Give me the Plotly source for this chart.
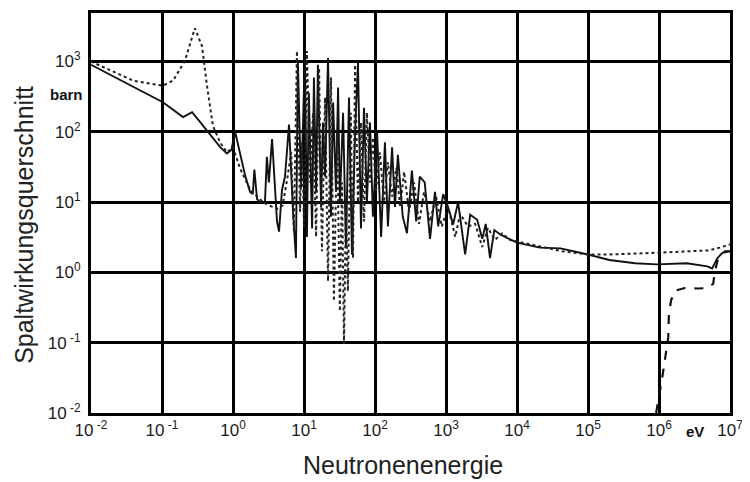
import plotly.graph_objects as go

# Energies (eV) and fission cross sections (barn)
solid_E = [0.01, 0.03, 0.103, 0.198, 0.265, 0.343, 0.475, 0.656, 0.82, 0.95, 1.07, 1.26, 1.48, 1.74, 1.9, 2.0,
           2.18, 2.4, 2.82, 3.0, 3.2, 3.55, 4.17, 4.45, 4.9, 5.4,
           6.15, 7.0, 7.7, 8.2, 9.1, 9.7, 10.3, 11.0, 11.7, 13.0, 13.8, 14.8, 15.7, 17.4, 18.5, 19.8,
           21.8, 24, 25.7, 28.2, 30.2, 32, 35.5, 39, 43, 47.4, 52.4, 57.6, 63.5, 70, 77, 85, 93.5,
           107, 122, 138, 152, 174, 191, 210, 246, 282, 331, 380, 427, 501, 596, 700, 776, 912,
           1070, 1260, 1480, 1860, 2190, 2750, 3240, 3630, 4170, 4790, 5750, 7240, 10000,
           21000, 41000, 1e5, 2.0e5, 4.6e5, 9.3e5, 2.45e6, 4.8e6, 5.6e6, 6.6e6, 7.8e6, 1e7]
solid_S = [900, 505, 263, 162, 190, 138, 90, 61, 49, 55, 100, 51, 24, 14, 13, 29,
           11, 10, 10, 44, 19, 79, 5.3, 3.8, 15, 23,
           127, 7.3, 1.6, 1020, 16, 135, 1320, 3.2, 360, 4.2, 590, 14, 900, 8.5, 135, 23,
           1120, 6.2, 260, 14, 425, 10, 187, 2.3, 307, 1.8, 98, 955, 4.2, 220, 10, 135, 6.2,
           98, 3.2, 71, 4.5, 60, 8.5, 47, 6.2, 3.6, 28, 5.3, 23, 19, 3.0, 14, 4.5, 13,
           8.5, 4.8, 10, 1.8, 6.6, 5.6, 3.0, 4.9, 1.6, 4.0, 3.5, 3.1, 2.65,
           2.25, 2.2, 1.8, 1.5, 1.35, 1.3, 1.35, 1.22, 1.14, 1.58, 1.9, 2.0]

dotted_E = [0.01, 0.039, 0.103, 0.143, 0.21, 0.29, 0.366, 0.43, 0.52, 0.656, 0.82, 1.0, 1.26, 1.74, 2.65,
            3.2, 4.2, 5.0, 5.75,
            6.6, 7.2, 7.95, 8.8, 9.4, 10, 11.0, 12.2, 13.4, 14.8, 16.3, 17.9, 19.8, 21.8, 24, 26.4,
            29.2, 32, 34.3, 36.6, 39, 41.5, 45.7, 49, 52.4, 57.6, 63.5, 70, 77, 85, 93.5, 103, 117,
            134, 152, 174, 200, 226, 257, 302, 355, 417, 490, 596, 724, 871, 1070, 1350, 1580,
            2040, 2570, 3240, 3890, 4900, 6170, 7940, 10000, 21000, 43000, 1e5, 2.0e5, 4.6e5,
            9.3e5, 2.3e6, 4.9e6, 7.2e6, 1e7]
dotted_S = [1000, 535, 452, 535, 1020, 2970, 1660, 452, 123, 71, 51, 60, 30, 15, 10,
            9, 8, 9, 20,
            51, 3.8, 1410, 7.3, 71, 4.5, 1410, 19, 187, 3.2, 810, 2.0, 307, 0.75, 590, 0.39,
            98, 0.28, 19, 0.096, 10, 0.54, 187, 1.6, 900, 10, 135, 5.3, 187, 19, 83, 14, 51,
            10, 37, 12, 31, 8.5, 27, 7.3, 19, 4.9, 14, 5.3, 12, 4.5, 8.5, 3.2, 6.8,
            4.5, 4.9, 2.3, 4.3, 2.9, 3.6, 2.9, 2.75, 2.3, 2.0, 1.8, 1.8, 1.85,
            1.9, 2.0, 2.05, 2.25, 2.5]

dashed_E = [9.1e5, 9.8e5, 1.1e6, 1.22e6, 1.35e6, 1.38e6, 1.48e6, 1.68e6, 2.3e6, 3.55e6, 4.9e6,
            5.8e6, 6.1e6, 6.8e6, 8.5e6, 1e7]
dashed_S = [0.01, 0.015, 0.03, 0.06, 0.12, 0.26, 0.40, 0.55, 0.60, 0.59, 0.60,
            0.69, 1.0, 1.6, 2.0, 2.0]

x_tickvals = [1e-2, 1e-1, 1e0, 1e1, 1e2, 1e3, 1e4, 1e5, 1e6, 1e7]
x_ticktext = ["10<sup> -2</sup>", "10<sup> -1</sup>", "10<sup>0</sup>", "10<sup>1</sup>", "10<sup>2</sup>",
              "10<sup>3</sup>", "10<sup>4</sup>", "10<sup>5</sup>", "10<sup>6</sup>", "10<sup>7</sup>"]
y_tickvals = [1e-2, 1e-1, 1e0, 1e1, 1e2, 1e3]
y_ticktext = ["10<sup> -2</sup>", "10<sup> -1</sup>", "10<sup>0</sup>", "10<sup>1</sup>", "10<sup>2</sup>",
              "10<sup>3</sup>"]

FONT = "Liberation Sans, Arial, sans-serif"

fig = go.Figure()
fig.add_trace(go.Scatter(x=solid_E, y=solid_S, mode="lines",
                         line=dict(color="#111", width=1.9), showlegend=False))
fig.add_trace(go.Scatter(x=dotted_E, y=dotted_S, mode="lines",
                         line=dict(color="#222", width=2, dash="dot"), showlegend=False))
fig.add_trace(go.Scatter(x=dashed_E, y=dashed_S, mode="lines",
                         line=dict(color="#111", width=2.2, dash="dash"), showlegend=False))

axis_font = dict(family=FONT, size=17, color="#1a1a1a")
fig.update_xaxes(type="log", range=[-2, 7], tickvals=x_tickvals, ticktext=x_ticktext,
                 showgrid=True, gridcolor="#000", gridwidth=2.6,
                 showline=True, linecolor="#000", linewidth=3, mirror=True,
                 ticks="", tickfont=axis_font, zeroline=False)
fig.update_yaxes(type="log", range=[-2, 3.69], tickvals=y_tickvals, ticktext=y_ticktext,
                 showgrid=True, gridcolor="#000", gridwidth=2.6,
                 showline=True, linecolor="#000", linewidth=3, mirror=True,
                 ticks="", tickfont=axis_font, zeroline=False, ticklabelstandoff=4)

fig.add_annotation(text="Spaltwirkungsquerschnitt", xref="paper", yref="paper", x=-0.106, y=0.471,
                   xanchor="center", yanchor="middle",
                   textangle=-90, showarrow=False, font=dict(family=FONT, size=25, color="#222"))
fig.add_annotation(text="Neutronenenergie", xref="paper", yref="paper", x=0.489, y=-0.131,
                   xanchor="center", yanchor="middle",
                   showarrow=False, font=dict(family=FONT, size=25, color="#222"))
fig.add_annotation(text="<b>barn</b>", xref="paper", yref="paper", x=-0.039, y=0.795,
                   xanchor="center", yanchor="middle",
                   showarrow=False, font=dict(family=FONT, size=15, color="#111"))
fig.add_annotation(text="<b>eV</b>", xref="paper", yref="paper", x=0.945, y=-0.045,
                   xanchor="center", yanchor="middle",
                   showarrow=False, font=dict(family=FONT, size=15, color="#111"))

fig.update_layout(width=750, height=482, margin=dict(l=83, r=28, t=2, b=77),
                  paper_bgcolor="white", plot_bgcolor="white")
fig.write_html("out.html")
